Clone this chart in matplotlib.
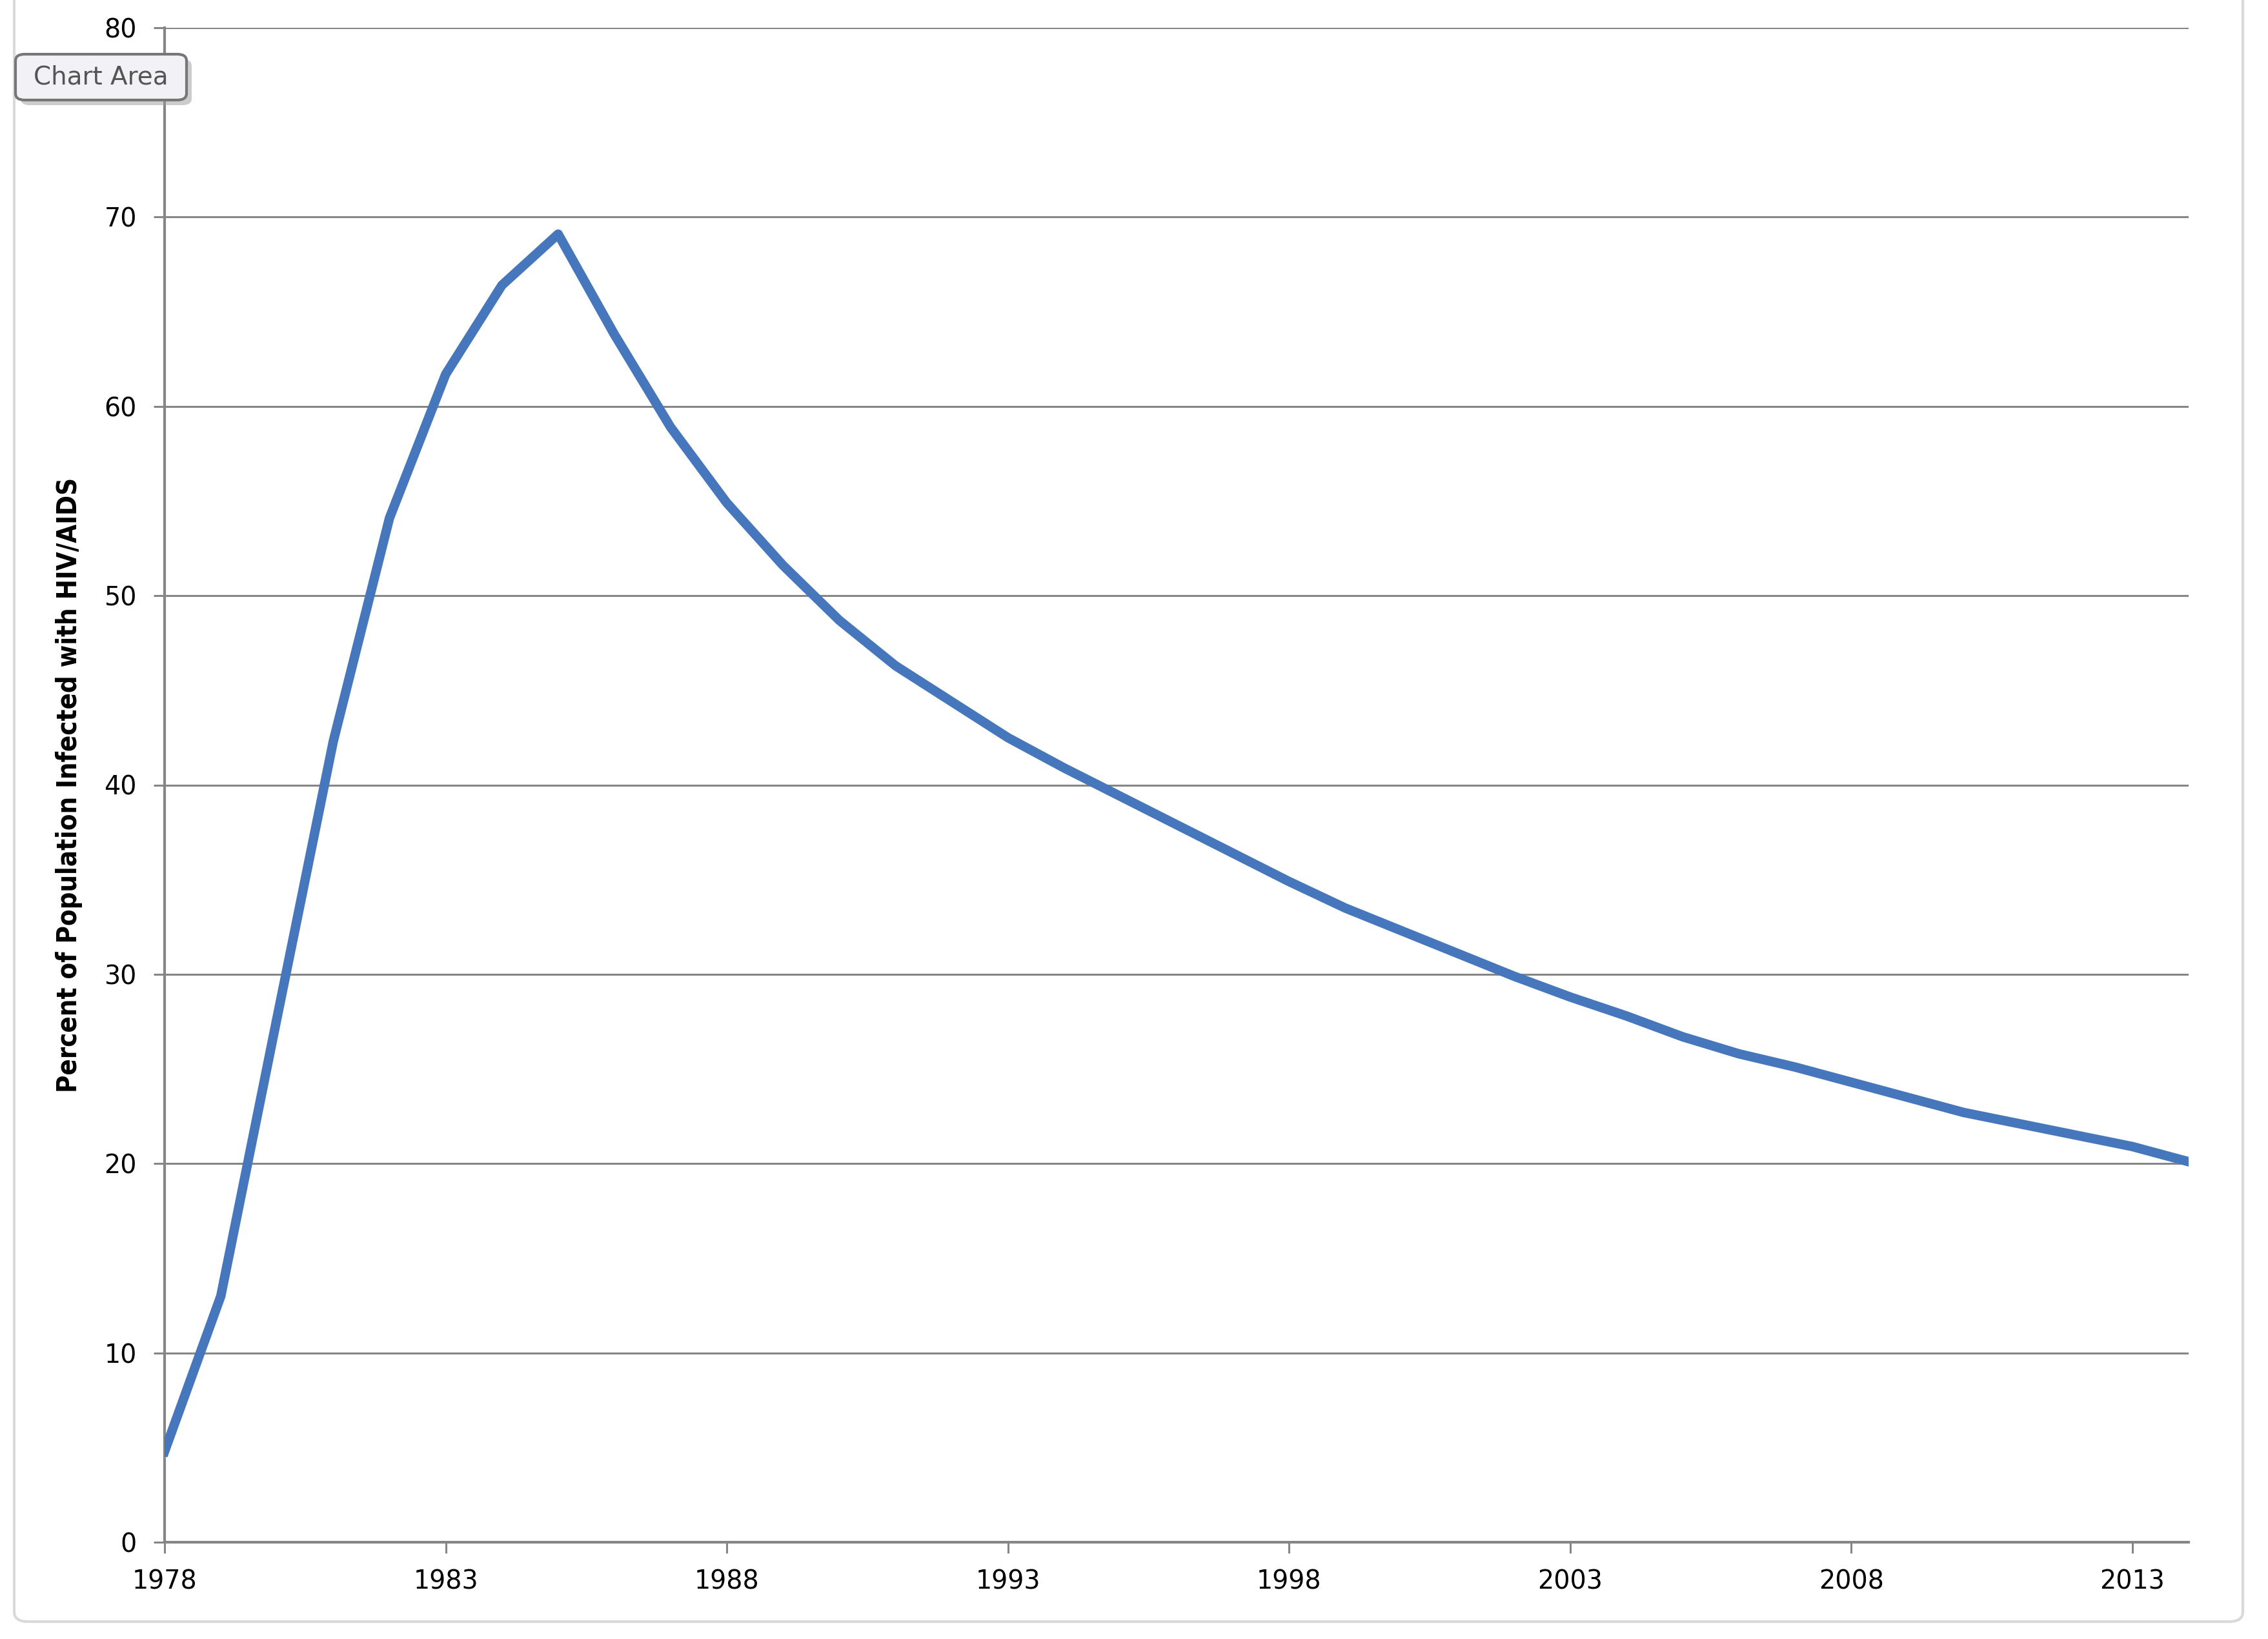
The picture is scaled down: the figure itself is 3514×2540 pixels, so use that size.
import matplotlib.pyplot as plt
from matplotlib.patches import FancyBboxPatch
import numpy as np

years = list(range(1978, 2015))
percent = [4.8, 13.0, 27.7, 42.3, 54.1, 61.7, 66.4, 69.1, 63.8, 58.9, 54.9, 51.6,
           48.7, 46.3, 44.4, 42.5, 40.9, 39.4, 37.9, 36.4, 34.9, 33.5, 32.3, 31.1,
           29.9, 28.8, 27.8, 26.7, 25.8, 25.1, 24.3, 23.5, 22.7, 22.1, 21.5, 20.9, 20.1]
x_ticks = list(range(1978, 2014, 5))
y_ticks = list(range(0, 81, 10))

W, H = 3514, 2540
fig = plt.figure(figsize=(W / 100, H / 100), dpi=100)
fig.patch.set_facecolor('white')

# chart area border (light gray, rounded)
border = FancyBboxPatch((22 / W, 1 - 2513 / H), (3475 - 22) / W, 2513 / H + 0.05,
                        boxstyle='round,pad=0,rounding_size=0.006',
                        transform=fig.transFigure, facecolor='none',
                        edgecolor='#d9d9d9', linewidth=3)
fig.add_artist(border)

ax = fig.add_axes([255 / W, (H - 2390) / H, (3391 - 255) / W, (2390 - 43) / H])
grid_c = '#868686'
ax.plot(years, percent, color='#4677bd', linewidth=10.5, solid_joinstyle='round', zorder=3)
ax.set_xlim(1978, 2014)
ax.set_ylim(0, 80)
ax.set_xticks(x_ticks)
ax.set_yticks(y_ticks)
ax.yaxis.grid(True, color=grid_c, linewidth=2.2)
ax.set_axisbelow(True)
for s in ['top', 'right']:
    ax.spines[s].set_visible(False)
for s in ['left', 'bottom']:
    ax.spines[s].set_color(grid_c)
    ax.spines[s].set_linewidth(3)
ax.tick_params(axis='x', which='major', direction='out', length=12, width=2.2,
               color=grid_c, pad=18, labelsize=28.5, labelcolor='black')
ax.tick_params(axis='y', which='major', direction='out', length=12, width=2.2,
               color=grid_c, pad=19, labelsize=28.5, labelcolor='black')
ax.set_ylabel('Percent of Population Infected with HIV/AIDS', fontsize=30, fontweight='bold',
              fontstretch='condensed', family='DejaVu Sans', color='black')
ax.yaxis.set_label_coords(-0.0405, 0.5)

# "Chart Area" tooltip
bx, by, bw, bh = 24 / W, 1 - 155 / H, (289 - 24) / W, (155 - 84) / H
shadow = FancyBboxPatch((bx + 8 / W, by - 8 / H), bw, bh,
                        boxstyle='round,pad=0,rounding_size=0.004',
                        transform=fig.transFigure, facecolor='#9a9a9a',
                        edgecolor='none', alpha=0.5, zorder=10)
box = FancyBboxPatch((bx, by), bw, bh, boxstyle='round,pad=0,rounding_size=0.004',
                     transform=fig.transFigure, facecolor='#f1f1f6',
                     edgecolor='#767676', linewidth=3, zorder=11)
fig.add_artist(shadow)
fig.add_artist(box)
fig.text(bx + bw / 2, by + bh / 2, 'Chart Area', fontsize=28, color='#555555',
         ha='center', va='center', zorder=12)

plt.savefig('out.png', dpi=100)
